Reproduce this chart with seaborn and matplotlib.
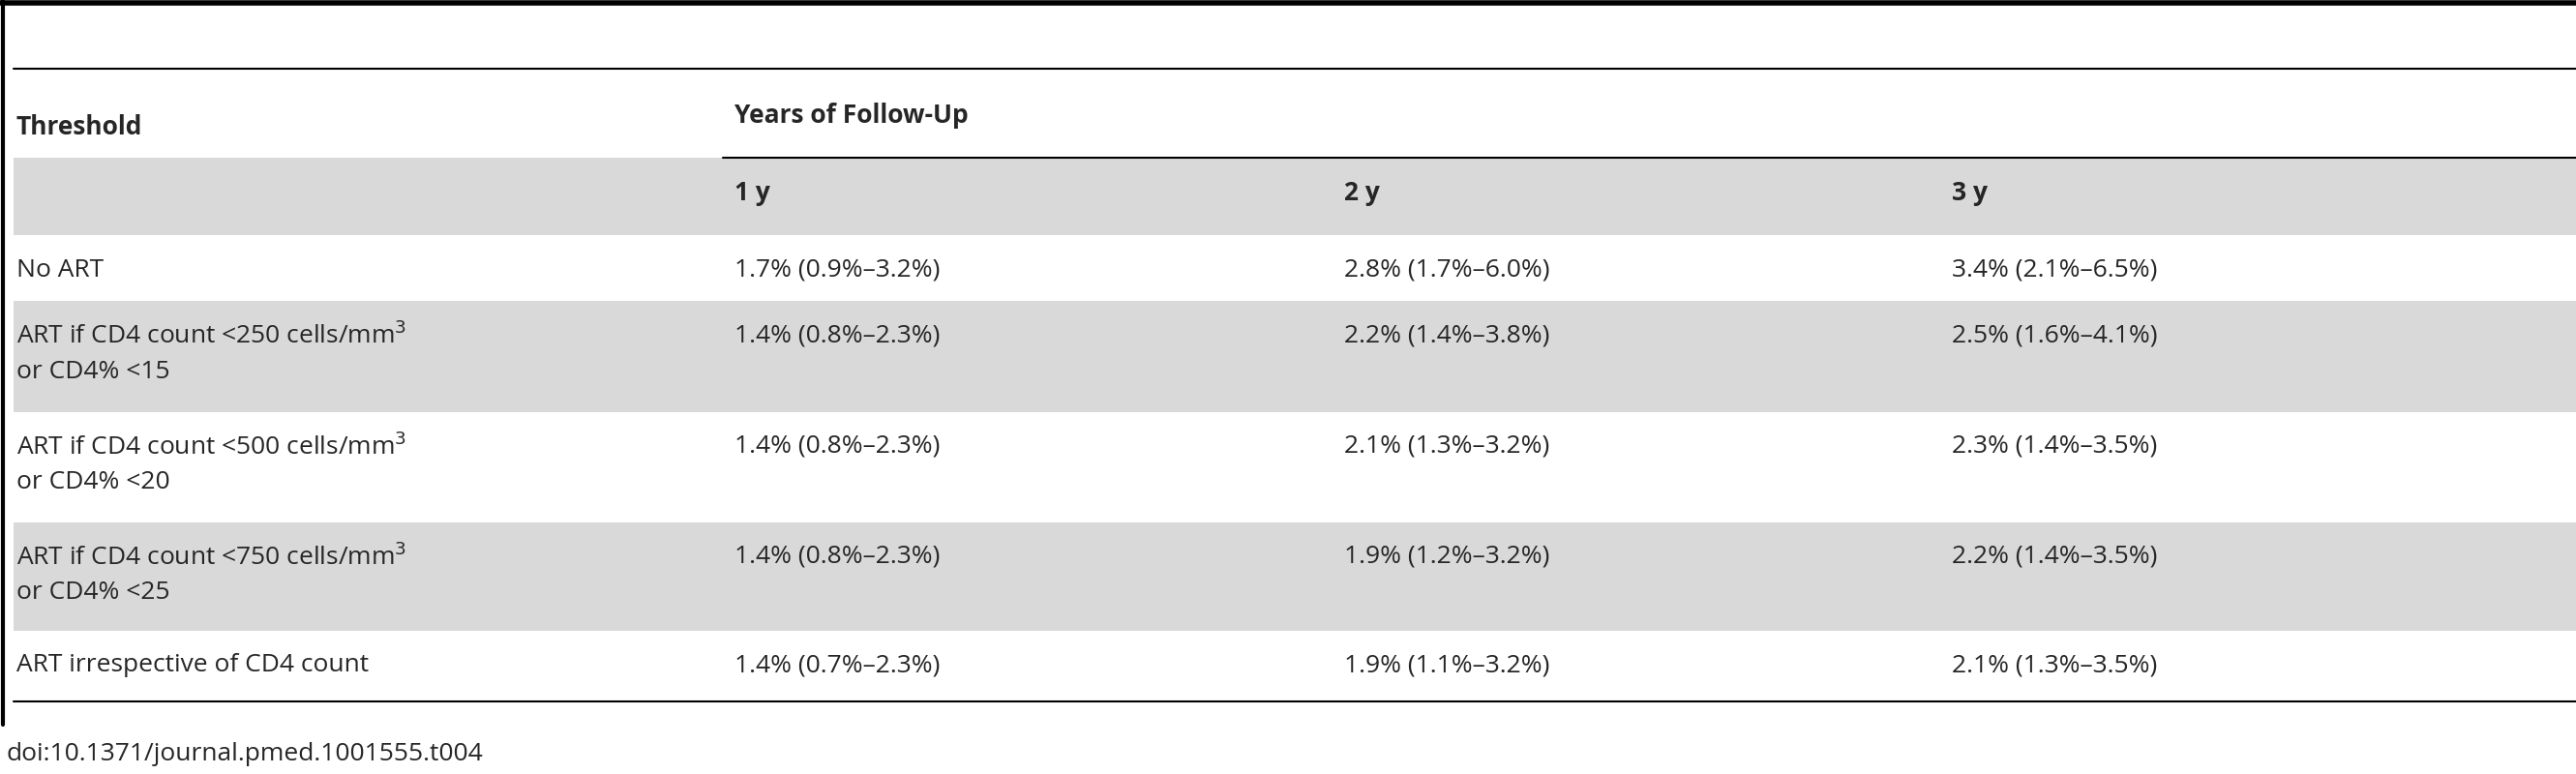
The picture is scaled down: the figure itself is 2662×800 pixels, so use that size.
import matplotlib
matplotlib.use("Agg")
import matplotlib.pyplot as plt
import seaborn as sns

sns.set_theme(style="white")
plt.rcParams['font.family'] = ['Open Sans', 'DejaVu Sans']

header_left = "Threshold"
header_group = "Years of Follow-Up"
years = ["1 y", "2 y", "3 y"]
thresholds = [
    ["No ART"],
    ["ART if CD4 count <250 cells/mm$^3$", "or CD4% <15"],
    ["ART if CD4 count <500 cells/mm$^3$", "or CD4% <20"],
    ["ART if CD4 count <750 cells/mm$^3$", "or CD4% <25"],
    ["ART irrespective of CD4 count"],
]
y1 = ["1.7% (0.9%–3.2%)", "1.4% (0.8%–2.3%)", "1.4% (0.8%–2.3%)", "1.4% (0.8%–2.3%)", "1.4% (0.7%–2.3%)"]
y2 = ["2.8% (1.7%–6.0%)", "2.2% (1.4%–3.8%)", "2.1% (1.3%–3.2%)", "1.9% (1.2%–3.2%)", "1.9% (1.1%–3.2%)"]
y3 = ["3.4% (2.1%–6.5%)", "2.5% (1.6%–4.1%)", "2.3% (1.4%–3.5%)", "2.2% (1.4%–3.5%)", "2.1% (1.3%–3.5%)"]
footer = "doi:10.1371/journal.pmed.1001555.t004"

W, H = 1568, 470
fig = plt.figure(figsize=(26.62, 8), dpi=100)
ax = fig.add_axes([0, 0, 1, 1])
ax.set_xlim(0, W); ax.set_ylim(H, 0); ax.axis("off")

fs = 19
gray = "#d9d9d9"
colx = [10, 447, 818, 1188]
row_bounds = [(143, 183), (183, 250), (250, 317), (317, 383), (383, 425)]

ax.fill_between([8, W], 96, 143, color=gray, lw=0)
for i, (a, b) in enumerate(row_bounds):
    if i % 2 == 1:
        ax.fill_between([8, W], a, b, color=gray, lw=0)

ax.plot([0, W], [2, 2], color="black", lw=4)
ax.plot([8, W], [42, 42], color="black", lw=1.5)
ax.plot([440, W], [96, 96], color="black", lw=1.5)
ax.plot([8, W], [426, 426], color="black", lw=1.5)
ax.plot([2, 2], [0, 440], color="black", lw=3)

ax.text(colx[0], 77, header_left, fontsize=fs, fontweight="bold", va="center")
ax.text(colx[1], 70, header_group, fontsize=fs, fontweight="bold", va="center")
for x, t in zip(colx[1:], years):
    ax.text(x, 117, t, fontsize=fs, fontweight="bold", va="center")

for i, (a, b) in enumerate(row_bounds):
    for k, line in enumerate(thresholds[i]):
        ax.text(colx[0], a + 21 + 22 * k, line, fontsize=fs, va="center")
    for x, col in zip(colx[1:], [y1, y2, y3]):
        ax.text(x, a + 21, col[i], fontsize=fs, va="center")

ax.text(4, 458, footer, fontsize=fs, va="center")
fig.savefig("out.png", dpi=100)
